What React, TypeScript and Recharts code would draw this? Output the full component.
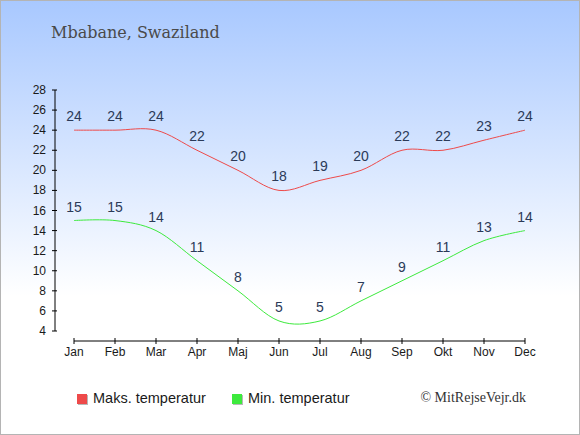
import * as React from "react";
import { LineChart, Line, XAxis, YAxis, LabelList } from "recharts";

// ─── Data ─────────────────────────────────────────────────────────────────────

const MONTHS = ["Jan", "Feb", "Mar", "Apr", "Maj", "Jun", "Jul", "Aug", "Sep", "Okt", "Nov", "Dec"];
const MAX_TEMPS = [24, 24, 24, 22, 20, 18, 19, 20, 22, 22, 23, 24];
const MIN_TEMPS = [15, 15, 14, 11, 8, 5, 5, 7, 9, 11, 13, 14];
const Y_TICKS = [4, 6, 8, 10, 12, 14, 16, 18, 20, 22, 24, 26, 28];

const RED = "#ee4a4a";
const GREEN = "#3dea3d";
const LABEL_COLOR = "#2b3a58";
const SANS = "'Liberation Sans', Arial, sans-serif";
const SERIF_TITLE = "'DejaVu Serif', serif";
const SERIF_SMALL = "'Liberation Serif', 'Times New Roman', serif";

// ─── Cardinal (Catmull-Rom) curve, same as d3.curveCardinal with tension 0 ───

function cardinalCurve(context: any) {
  const k = 1 / 6;
  let x0 = NaN, y0 = NaN, x1 = NaN, y1 = NaN, x2 = NaN, y2 = NaN;
  let pt = 0;
  let line = NaN;
  const bez = (x: number, y: number) => {
    context.bezierCurveTo(
      x1 + k * (x2 - x0),
      y1 + k * (y2 - y0),
      x2 + k * (x1 - x),
      y2 + k * (y1 - y),
      x2,
      y2
    );
  };
  return {
    areaStart() { line = 0; },
    areaEnd() { line = NaN; },
    lineStart() { x0 = x1 = x2 = y0 = y1 = y2 = NaN; pt = 0; },
    lineEnd() {
      if (pt === 2) context.lineTo(x2, y2);
      else if (pt === 3) bez(x1, y1);
      if (line || (line !== 0 && pt === 1)) context.closePath();
      line = 1 - line;
    },
    point(x: number, y: number) {
      x = +x; y = +y;
      if (pt === 0) {
        pt = 1;
        line ? context.lineTo(x, y) : context.moveTo(x, y);
      } else if (pt === 1) {
        pt = 2;
        x1 = x; y1 = y;
      } else {
        pt = 3;
        bez(x, y);
      }
      x0 = x1; x1 = x2; x2 = x;
      y0 = y1; y1 = y2; y2 = y;
    },
  };
}

// ─── Ticks ────────────────────────────────────────────────────────────────────

function XTick({ x, y, payload }: any) {
  return (
    <g>
      <line x1={x} x2={x} y1={y - 3} y2={y + 3} stroke="#000" />
      <text x={x} y={y + 15} textAnchor="middle" fontSize={12} fontFamily={SANS} fill="#1a1a1a">
        {payload.value}
      </text>
    </g>
  );
}

function YTick({ x, y, payload }: any) {
  return (
    <g>
      <line x1={x - 3} x2={x + 2} y1={y} y2={y} stroke="#000" />
      <text x={x - 9} y={y + 4} textAnchor="end" fontSize={12} fontFamily={SANS} fill="#1a1a1a">
        {payload.value}
      </text>
    </g>
  );
}

// ─── Component ────────────────────────────────────────────────────────────────

export default function App() {
  const data = MONTHS.map((month, i) => ({ month, max: MAX_TEMPS[i], min: MIN_TEMPS[i] }));

  return (
    <div
      style={{
        position: "fixed",
        left: 0,
        top: 0,
        width: 580,
        height: 435,
        background: "linear-gradient(to bottom, #a8c8ff 0%, #ffffff 68%, #ffffff 100%)",
        boxShadow: "inset 0 0 0 1px #b4b4b4",
      }}
    >
      <LineChart
        width={580}
        height={435}
        data={data}
        margin={{ top: 90, right: 55, bottom: 64, left: 0 }}
        style={{ position: "absolute", left: 0, top: 0 }}
      >
        <XAxis
          dataKey="month"
          interval={0}
          height={30}
          padding={{ left: 19, right: 0 }}
          tickSize={0}
          tickMargin={0}
          tickLine={false}
          axisLine={{ stroke: "#000", strokeDasharray: "0 19 451 60" }}
          tick={<XTick />}
        />
        <YAxis
          width={55}
          domain={[4, 28]}
          ticks={Y_TICKS}
          interval={0}
          padding={{ top: 0, bottom: 10 }}
          tickSize={0}
          tickMargin={0}
          tickLine={false}
          axisLine={{ stroke: "#000", strokeDasharray: "241 40" }}
          tick={<YTick />}
        />
        <Line
          dataKey="max"
          type={cardinalCurve as any}
          stroke={RED}
          strokeWidth={1}
          dot={false}
          activeDot={false}
          isAnimationActive={false}
        >
          <LabelList dataKey="max" position="top" offset={9} fill={LABEL_COLOR} fontSize={14} fontFamily={SANS} />
        </Line>
        <Line
          dataKey="min"
          type={cardinalCurve as any}
          stroke={GREEN}
          strokeWidth={1}
          dot={false}
          activeDot={false}
          isAnimationActive={false}
        >
          <LabelList dataKey="min" position="top" offset={9} fill={LABEL_COLOR} fontSize={14} fontFamily={SANS} />
        </Line>
      </LineChart>

      {/* Title, legend and credit */}
      <svg width={580} height={435} style={{ position: "absolute", left: 0, top: 0, pointerEvents: "none" }}>
        <text x={51} y={38} fontSize={16} fontFamily={SERIF_TITLE} fill="#4a4a4a">
          Mbabane, Swaziland
        </text>

        <rect x={78} y={395} width={10} height={10} fill="#b8b8b8" />
        <rect x={77} y={394} width={10} height={10} fill={RED} />
        <text x={93} y={403} fontSize={14.5} fontFamily={SANS} fill="#1a1a1a">
          Maks. temperatur
        </text>

        <rect x={233} y={395} width={10} height={10} fill="#b8b8b8" />
        <rect x={232} y={394} width={10} height={10} fill={GREEN} />
        <text x={248} y={403} fontSize={14.5} fontFamily={SANS} fill="#1a1a1a">
          Min. temperatur
        </text>

        <text x={526} y={402} textAnchor="end" fontSize={14} fontFamily={SERIF_SMALL} fill="#333">
          © MitRejseVejr.dk
        </text>
      </svg>
    </div>
  );
}
